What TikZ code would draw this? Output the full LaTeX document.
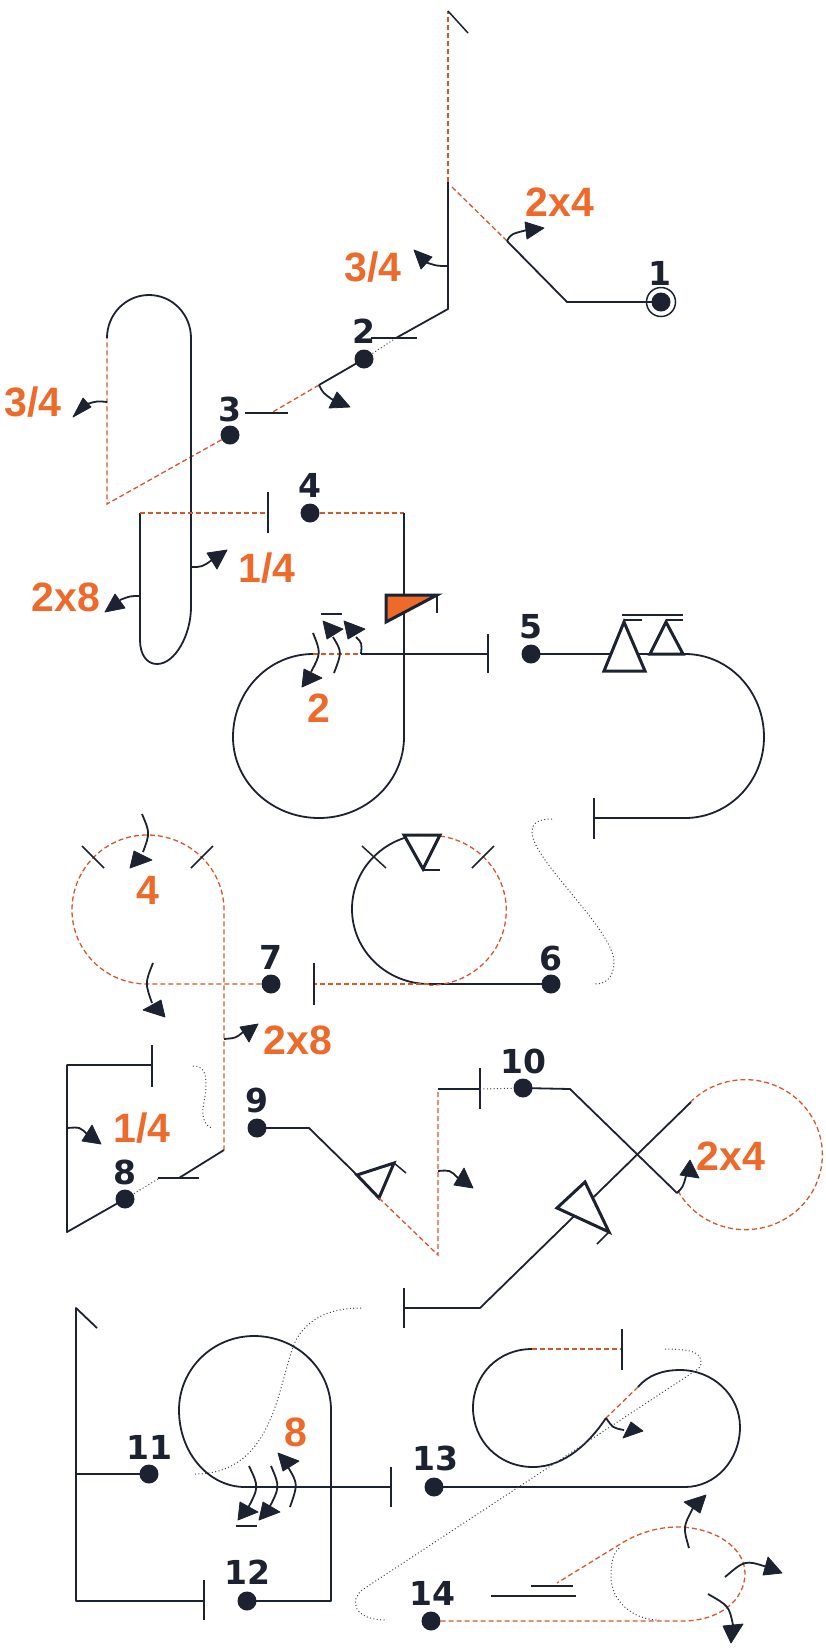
\documentclass[tikz,border=0pt]{standalone}
\usepackage{fontspec}
\setmainfont{Liberation Sans}
\newfontfamily\numfont{DejaVu Sans}
\definecolor{ink}{HTML}{1C2230}
\definecolor{rollorange}{HTML}{EE6A2A}
\definecolor{dashorange}{HTML}{D9552A}
\tikzset{
  solidline/.style={draw=ink,line width=1.8pt,line join=round},
  tickline/.style={draw=ink,line width=1.5pt},
  dashline/.style={draw=dashorange,line width=1.3pt,dash pattern=on 5pt off 3pt},
  dotline/.style={draw=ink!85,line width=1pt,dash pattern=on 1pt off 2.4pt},
  rotline/.style={draw=ink,line width=1.8pt},
  rothead/.style={fill=ink,draw=ink,line width=0.8pt,line join=round},
  snaptri/.style={draw=ink,line width=3pt,fill=white,line join=miter},
  seqdot/.style={circle,fill=ink,inner sep=0pt,minimum size=19pt},
  seqnum/.style={font=\numfont\bfseries\fontsize{33}{33}\selectfont,text=ink,inner sep=0pt},
  rolltxt/.style={font=\bfseries\fontsize{41}{41}\selectfont,text=rollorange,inner sep=0pt}
}
\begin{document}
\begin{tikzpicture}[x=1pt,y=-1pt]
\useasboundingbox[fill=white] (0,0) rectangle (826,1650);
% sequence dots
\node[seqdot] (d1) at (661,302) {};
\node[seqdot] (d2) at (364,359) {};
\node[seqdot] (d3) at (230,435) {};
\node[seqdot] (d4) at (310,513) {};
\node[seqdot] (d5) at (531,654) {};
\node[seqdot] (d6) at (551,984) {};
\node[seqdot] (d7) at (271,984) {};
\node[seqdot] (d8) at (125,1199) {};
\node[seqdot] (d9) at (257,1128) {};
\node[seqdot] (d10) at (523,1088) {};
\node[seqdot] (d11) at (149,1474) {};
\node[seqdot] (d12) at (247,1601) {};
\node[seqdot] (d13) at (434,1487) {};
\node[seqdot] (d14) at (431,1621) {};
% figure 1
\node[draw=ink,line width=1.5pt,circle,minimum size=29pt,inner sep=0pt] (r1) at (d1) {};
\draw[solidline] (d1.center) -- (567,302) -- (507,241);
\draw[dashline] (507,241) -- (450,185);
\draw[dashline] (448,182) -- (448,11);
\draw[tickline] (448,11) -- (468,33);
% figure 2
\draw[solidline] (448,182) -- (448,309) -- (396,338);
\draw[dotline] (396,338) -- (d2);
\draw[tickline] (371,338) -- (417,338);
\draw[solidline] (d2.center) -- (319,385);
\draw[dashline] (319,385) -- (271,413);
\draw[tickline] (245,413) -- (288,413);
% figure 3
\draw[dashline] (d3) -- (107,504) -- (107,338);
\draw[solidline] (107,338) arc[start angle=180,end angle=270,x radius=42,y radius=43]
  arc[start angle=270,end angle=360,x radius=42,y radius=43] -- (191,607)
  .. controls (191,635) and (175,664) .. (157,664) .. controls (147,664) and (140,655) .. (140,640) -- (140,513);
\draw[dashline] (140,513) -- (268,513);
\draw[tickline] (268,492) -- (268,533);
% figure 4
\draw[dashline] (d4) -- (404,513);
\draw[solidline] (404,513) -- (404,737) arc[start angle=0,end angle=90,x radius=85,y radius=81]
  arc[start angle=90,end angle=180,x radius=86,y radius=81]
  arc[start angle=180,end angle=270,x radius=80,y radius=83];
\draw[dashline] (313,654) -- (361,654);
\draw[solidline] (361,654) -- (488,654);
\draw[tickline] (488,634) -- (488,673);
\fill[rollorange,draw=ink,line width=3pt] (386,595) -- (437,595) -- (386,622) -- cycle;
\draw[tickline] (437,595) -- (437,613);
\draw[tickline] (321,614) -- (342,614);
% figure 5
\draw[solidline] (d5.center) -- (685,654) arc[start angle=270,end angle=360,x radius=79,y radius=83]
  arc[start angle=0,end angle=90,x radius=79,y radius=81] -- (594,818);
\draw[tickline] (594,798) -- (594,839);
\draw[snaptri] (624,622) -- (604,671) -- (645,671) -- cycle;
\draw[snaptri] (666,622) -- (650,654) -- (683,654) -- cycle;
\draw[tickline] (622,615) -- (683,615);
\draw[tickline] (624,620) -- (642,620);
\draw[tickline] (666,620) -- (683,620);
% figure 6
\draw[solidline] (d6.center) -- (429,984)
  arc[start angle=90,end angle=180,x radius=77,y radius=75]
  arc[start angle=180,end angle=262,x radius=77,y radius=75];
\draw[dashline] (440,836) arc[start angle=-82,end angle=90,x radius=77,y radius=75];
\draw[dashline] (429,984) -- (314,984);
\draw[tickline] (314,963) -- (314,1005);
\draw[tickline] (362,846) -- (386,868);
\draw[tickline] (494,846) -- (472,868);
\draw[snaptri] (404,835) -- (440,835) -- (423,869) -- cycle;
\draw[tickline] (423,870) -- (440,870);
\draw[dotline] (552,819) .. controls (540,819) and (532,822) .. (532,832)
  .. controls (532,860) and (614,930) .. (614,962) .. controls (614,975) and (608,984) .. (595,984);
% figure 7
\draw[dashline] (d7) -- (147,984) arc[start angle=90,end angle=180,x radius=75,y radius=74]
  arc[start angle=180,end angle=270,x radius=75,y radius=75]
  arc[start angle=270,end angle=360,x radius=77,y radius=75] -- (224,1150);
\draw[tickline] (82,846) -- (104,868);
\draw[tickline] (213,846) -- (191,868);
\draw[solidline] (224,1150) -- (179,1178);
\draw[tickline] (158,1178) -- (199,1178);
\draw[dotline] (158,1179) -- (d8);
% figure 8
\draw[solidline] (d8.center) -- (67,1232) -- (67,1065) -- (152,1065);
\draw[tickline] (152,1045) -- (152,1087);
\draw[dotline] (193,1066) .. controls (203,1066) and (206,1072) .. (206,1085)
  .. controls (206,1098) and (202,1105) .. (203,1115) .. controls (204,1123) and (208,1128) .. (213,1128);
% figure 9
\draw[solidline] (d9.center) -- (309,1128) -- (357,1175);
\draw[snaptri] (357,1175) -- (394,1163) -- (379,1198) -- cycle;
\draw[tickline] (394,1163) -- (406,1173);
\draw[dashline] (379,1198) -- (438,1255) -- (438,1089);
\draw[solidline] (438,1089) -- (480,1089);
\draw[tickline] (480,1068) -- (480,1109);
\draw[dotline] (480,1089) -- (d10);
% figure 10
\draw[solidline] (d10.center) -- (570,1089) -- (677,1193);
\draw[dashline] (678,1191) arc[start angle=151,end angle=-135,x radius=77,y radius=75];
\draw[solidline] (691,1102) -- (480,1308) -- (404,1308);
\draw[snaptri] (585,1182) -- (557,1208) -- (609,1232) -- cycle;
\draw[tickline] (609,1232) -- (597,1244);
\draw[tickline] (404,1288) -- (404,1328);
\draw[dotline] (361,1308) .. controls (325,1308) and (306,1322) .. (296,1340)
  .. controls (278,1378) and (277,1474) .. (195,1474);
% figure 11
\draw[solidline] (97,1328) -- (76,1308) -- (76,1601) -- (204,1601);
\draw[solidline] (76,1474) -- (d11.center);
\draw[tickline] (204,1580) -- (204,1620);
% figure 12
\draw[solidline] (d12.center) -- (331,1601) -- (331,1410)
  arc[start angle=0,end angle=-90,x radius=77,y radius=74]
  arc[start angle=-90,end angle=-180,x radius=75,y radius=74]
  arc[start angle=180,end angle=90,x radius=66,y radius=77] -- (391,1487);
\draw[tickline] (391,1467) -- (391,1507);
\draw[tickline] (236,1526) -- (257,1526);
% figure 13
\draw[solidline] (d13.center) -- (685,1487) arc[start angle=90,end angle=0,x radius=55,y radius=60]
  arc[start angle=0,end angle=-90,x radius=60,y radius=57]
  .. controls (663,1370) and (648,1375) .. (638,1387);
\draw[dashline] (638,1387) -- (606,1418);
\draw[solidline] (606,1418) .. controls (590,1442) and (565,1467) .. (533,1467)
  .. controls (498,1467) and (473,1440) .. (473,1408)
  .. controls (473,1375) and (498,1349) .. (532,1349);
\draw[dashline] (532,1349) -- (622,1349);
\draw[tickline] (622,1329) -- (622,1370);
\draw[dotline] (665,1349) .. controls (690,1349) and (701,1352) .. (701,1362)
  .. controls (701,1366) and (700,1367) .. (698,1369) -- (362,1590)
  .. controls (350,1600) and (352,1620) .. (387,1620);
% figure 14
\draw[dashline] (d14) -- (682,1621) .. controls (720,1621) and (745,1600) .. (745,1573)
  .. controls (745,1548) and (715,1527) .. (677,1527) .. controls (655,1527) and (635,1535) .. (622,1543) -- (557,1583);
\draw[dotline] (619,1548) .. controls (612,1555) and (611,1565) .. (611,1577)
  .. controls (611,1600) and (632,1620) .. (659,1620);
\draw[tickline] (531,1586) -- (573,1586);
\draw[tickline] (491,1596) -- (576,1596);
% rotation arrows
\draw[rotline] (507,241) .. controls (511,234) .. (527,230);
\filldraw[rothead] (525,222) -- (544,228) -- (527,239) -- cycle;
\draw[rotline] (447,266) .. controls (437,266) .. (425,262);
\filldraw[rothead] (414,250) -- (432,257) -- (421,269) -- cycle;
\draw[rotline] (319,385) .. controls (323,393) .. (333,400);
\filldraw[rothead] (337,392) -- (350,407) -- (329,408) -- cycle;
\draw[rotline] (107,402) .. controls (97,401) .. (87,404);
\filldraw[rothead] (83,398) -- (91,407) -- (73,417) -- cycle;
\draw[rotline] (191,567) .. controls (202,567) .. (212,560);
\filldraw[rothead] (207,553) -- (227,550) -- (217,569) -- cycle;
\draw[rotline] (140,596) .. controls (130,596) .. (120,600);
\filldraw[rothead] (115,594) -- (125,608) -- (105,612) -- cycle;
\draw[rotline] (313,633) .. controls (321,653) .. (311,672);
\filldraw[rothead] (304,669) -- (322,678) -- (302,687) -- cycle;
\draw[rotline] (334,673) .. controls (342,652) .. (333,637);
\filldraw[rothead] (323,621) -- (343,629) -- (327,639) -- cycle;
\draw[rotline] (361,654) .. controls (362,643) .. (356,637);
\filldraw[rothead] (344,621) -- (365,629) -- (348,639) -- cycle;
\draw[rotline] (142,814) .. controls (150,833) .. (143,852);
\filldraw[rothead] (134,851) -- (152,860) -- (130,868) -- cycle;
\draw[rotline] (153,963) .. controls (145,983) .. (152,1003);
\filldraw[rothead] (143,1010) -- (161,1000) -- (165,1017) -- cycle;
\draw[rotline] (224,1039) .. controls (236,1038) .. (243,1032);
\filldraw[rothead] (240,1027) -- (258,1024) -- (249,1042) -- cycle;
\draw[rotline] (67,1128) .. controls (80,1127) .. (88,1135);
\filldraw[rothead] (92,1125) -- (82,1141) -- (101,1144) -- cycle;
\draw[rotline] (438,1171) .. controls (450,1170) .. (458,1178);
\filldraw[rothead] (464,1168) -- (454,1185) -- (473,1188) -- cycle;
\draw[rotline] (677,1193) .. controls (683,1187) .. (686,1176);
\filldraw[rothead] (690,1160) -- (680,1175) -- (699,1178) -- cycle;
\draw[rotline] (606,1418) .. controls (613,1428) .. (624,1430);
\filldraw[rothead] (631,1422) -- (623,1438) -- (643,1431) -- cycle;
\draw[rotline] (249,1466) .. controls (259,1487) .. (247,1510);
\filldraw[rothead] (240,1502) -- (258,1512) -- (238,1520) -- cycle;
\draw[rotline] (271,1466) .. controls (280,1487) .. (268,1510);
\filldraw[rothead] (263,1502) -- (280,1512) -- (259,1520) -- cycle;
\draw[rotline] (290,1507) .. controls (298,1484) .. (288,1467);
\filldraw[rothead] (278,1453) -- (299,1461) -- (283,1471) -- cycle;
\draw[rotline] (689,1548) .. controls (683,1527) .. (693,1508);
\filldraw[rothead] (684,1502) -- (706,1495) -- (700,1513) -- cycle;
\draw[rotline] (725,1577) .. controls (745,1560) .. (767,1567);
\filldraw[rothead] (768,1557) -- (782,1573) -- (763,1575) -- cycle;
\draw[rotline] (708,1594) .. controls (729,1606) .. (733,1625);
\filldraw[rothead] (723,1626) -- (743,1624) -- (731,1643) -- cycle;
% sequence numbers
\node[seqnum] (n1) at (660,273) {1};
\node[seqnum] (n2) at (364,331) {2};
\node[seqnum] (n3) at (230,409) {3};
\node[seqnum] (n4) at (310,485) {4};
\node[seqnum] (n5) at (531,627) {5};
\node[seqnum] (n6) at (551,958) {6};
\node[seqnum] (n7) at (271,957) {7};
\node[seqnum] (n8) at (125,1172) {8};
\node[seqnum] (n9) at (257,1100) {9};
\node[seqnum] (n10) at (523,1061) {10};
\node[seqnum] (n11) at (149,1447) {11};
\node[seqnum] (n12) at (247,1572) {12};
\node[seqnum] (n13) at (435,1458) {13};
\node[seqnum] (n14) at (432,1593) {14};
% roll labels
\node[rolltxt] (t1) at (560,202) {2x4};
\node[rolltxt] (t2) at (373,267) {3/4};
\node[rolltxt] (t3) at (33,402) {3/4};
\node[rolltxt] (t4) at (267,568) {1/4};
\node[rolltxt] (t5) at (66,597) {2x8};
\node[rolltxt] (t6) at (319,708) {2};
\node[rolltxt] (t7) at (148,890) {4};
\node[rolltxt] (t8) at (298,1040) {2x8};
\node[rolltxt] (t9) at (142,1128) {1/4};
\node[rolltxt] (t10) at (731,1156) {2x4};
\node[rolltxt] (t11) at (296,1432) {8};
\end{tikzpicture}
\end{document}
